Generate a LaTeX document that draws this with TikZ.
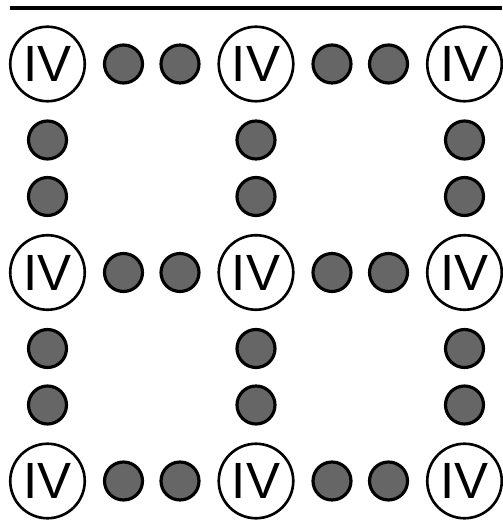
\documentclass[tikz,border=0pt]{standalone}
\usepackage{fontspec}
\setmainfont{Liberation Sans}
\usetikzlibrary{math}
\definecolor{dotgray}{RGB}{102,102,102}

\begin{document}
\begin{tikzpicture}[
  iv/.style={circle, draw, line width=1.5pt, minimum size=1.49cm, inner sep=0pt,
    font=\fontsize{29}{29}\selectfont},
  dot/.style={circle, draw, fill=dotgray, line width=1.8pt, minimum size=0.76cm, inner sep=0pt}
]
\tikzmath{
\d=4.17;
\a=1.52;
\b=\d-\a;
\xo=0.95;
\yo=9.12;
}
\useasboundingbox (0,0) rectangle (10.04,10.4);

\coordinate (L) at (0.2,10.24);
\coordinate (R) at (10.04,10.24);
\draw[line width=1.8pt] (L) -- (R);

% junctions
\foreach \i in {0,1,2}{
  \foreach \j in {0,1,2}{
    \node[iv] (iv-\i-\j) at (\xo+\i*\d, \yo-\j*\d) {IV};
  }
}

% dots along the rows
\foreach \i in {0,1}{
  \foreach \j in {0,1,2}{
    \node[dot] (hd-\i-\j-1) at (\xo+\i*\d+\a, \yo-\j*\d) {};
    \node[dot] (hd-\i-\j-2) at (\xo+\i*\d+\b, \yo-\j*\d) {};
  }
}

% dots along the columns
\foreach \i in {0,1,2}{
  \foreach \j in {0,1}{
    \node[dot] (vd-\i-\j-1) at (\xo+\i*\d, \yo-\j*\d-\a) {};
    \node[dot] (vd-\i-\j-2) at (\xo+\i*\d, \yo-\j*\d-\b) {};
  }
}
\end{tikzpicture}
\end{document}
